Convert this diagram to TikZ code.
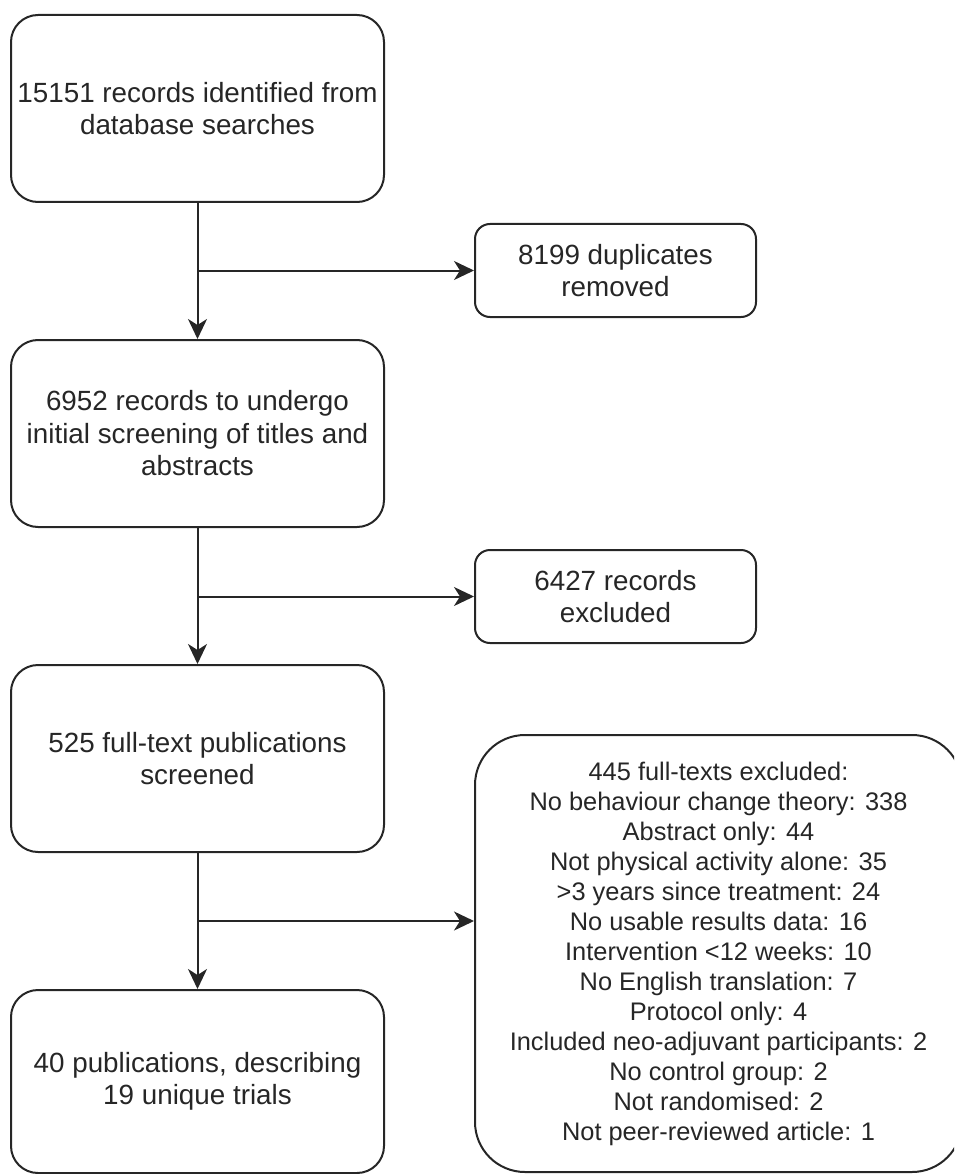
\documentclass[tikz,border=0pt]{standalone}
\usepackage{fontspec}
\setmainfont{Liberation Sans}
\usetikzlibrary{arrows.meta}

\newcommand{\colx}{197.5}
\newcommand{\sidex}{615.5}
\newcommand{\bigw}{373pt}
\newcommand{\bigh}{187pt}

\tikzset{
	flowbox/.style={draw=black!85, line width=2pt, rounded corners=27pt, inner sep=0pt, align=center,
		minimum width=\bigw, minimum height=\bigh, font=\fontsize{27.8}{32.5}\selectfont, text=black!85},
	sidebox/.style={flowbox, rounded corners=15pt, minimum width=281pt, minimum height=93pt},
	listbox/.style={flowbox, rounded corners=50pt, minimum width=487pt, minimum height=437pt,
		font=\fontsize{25.4}{30}\selectfont},
	flowarrow/.style={draw=black!85, line width=2pt, -{Stealth[length=20pt,width=19pt,inset=6pt]}}
}

\begin{document}
\begin{tikzpicture}[x=1pt,y=-1pt]
	\useasboundingbox (0,0) rectangle (954,1174);
	\clip (0,0) rectangle (954,1174);
	%Main column of boxes
	\node[flowbox] (found) at (\colx,108.5) {15151 records identified from\\database searches};
	\node[flowbox] (initial) at (\colx,433.5) {6952 records to undergo\\initial screening of titles and\\abstracts};
	\node[flowbox] (fulltext) at (\colx,758.5) {525 full-text publications\\screened};
	\node[flowbox, minimum height=183pt] (included) at (\colx,1081.5) {40 publications, describing\\19 unique trials};
	%Boxes for the excluded records
	\node[sidebox] (dupes) at (\sidex,270.5) {8199 duplicates\\removed};
	\node[sidebox] (excluded) at (\sidex,596.5) {6427 records\\excluded};
	\node[listbox] (reasons) at (718.5,953.5) {445 full-texts excluded:\\
		No behaviour change theory: 338\\
		Abstract only: 44\\
		Not physical activity alone: 35\\
		>3 years since treatment: 24\\
		No usable results data: 16\\
		Intervention <12 weeks: 10\\
		No English translation: 7\\
		Protocol only: 4\\
		Included neo-adjuvant participants: 2\\
		No control group: 2\\
		Not randomised: 2\\
		Not peer-reviewed article: 1};
	%Branch points on the main line
	\coordinate (split1) at (found.south |- dupes.west);
	\coordinate (split2) at (initial.south |- excluded.west);
	\coordinate (split3) at (\colx,921);
	%Draw the connectors
	\begin{scope}[flowarrow]
		\draw (found.south) -- (initial.north);
		\draw (split1) -- (dupes.west);
		\draw (initial.south) -- (fulltext.north);
		\draw (split2) -- (excluded.west);
		\draw (fulltext.south) -- (included.north);
		\draw (split3) -- (split3 -| reasons.west);
	\end{scope}
\end{tikzpicture}
\end{document}
